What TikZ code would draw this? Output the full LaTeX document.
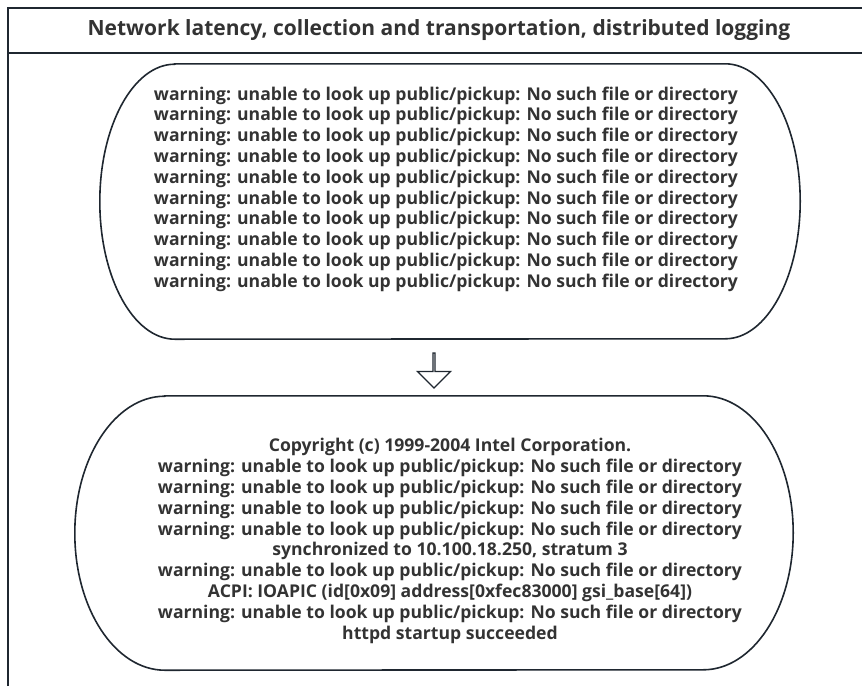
\documentclass[tikz,border=0pt]{standalone}
\usepackage{fontspec}
\setmainfont{Open Sans}
\usetikzlibrary{shapes.arrows}
\definecolor{inkline}{HTML}{1F2730}
\definecolor{inktext}{HTML}{333333}
\begin{document}
\begin{tikzpicture}[x=1pt,y=-1pt,
  frameline/.style={draw=inkline,line width=2pt},
  boxline/.style={draw=inkline,line width=1.6pt},
  logtext/.style={text=inktext,align=center,inner sep=0pt,
    font=\fontsize{17.6}{20.8}\selectfont\bfseries},
  titletext/.style={text=inktext,inner sep=0pt,
    font=\fontsize{21}{25}\selectfont\bfseries},
  holder/.style={rectangle,draw=none,inner sep=0pt},
  blockarrow/.style={single arrow,draw=inkline,line width=1.3pt,fill=white,
    shape border rotate=270,minimum width=33pt,minimum height=35pt,
    single arrow head extend=11pt,single arrow head indent=0pt,inner sep=0pt}]
\useasboundingbox (0,0) rectangle (862,686);

% outer frame, open on the right, with the title band
\coordinate (fbl) at (8,686);
\coordinate (ftl) at (8,8);
\coordinate (ftr) at (866,8);
\coordinate (fml) at (8,53);
\coordinate (fmr) at (866,53);
\draw[frameline] (fbl) -- (ftl) -- (ftr);
\draw[frameline] (fml) -- (fmr);
\node[titletext] (title) at (439,30)
  {Network latency, collection and transportation, distributed logging};

% upper log box
\node[holder,minimum width=700pt,minimum height=275pt] (upper) at (450,201.5) {};
\draw[boxline] ([xshift=75pt]upper.north west) -- ([xshift=-75pt]upper.north east)
  arc[start angle=90,end angle=-90,x radius=75pt,y radius=137.5pt]
  -- ([xshift=75pt]upper.south west)
  arc[start angle=270,end angle=90,x radius=75pt,y radius=137.5pt] -- cycle;
\node[logtext] (uppertext) at (446,189) {%
warning: unable to look up public/pickup: No such file or directory\\
warning: unable to look up public/pickup: No such file or directory\\
warning: unable to look up public/pickup: No such file or directory\\
warning: unable to look up public/pickup: No such file or directory\\
warning: unable to look up public/pickup: No such file or directory\\
warning: unable to look up public/pickup: No such file or directory\\
warning: unable to look up public/pickup: No such file or directory\\
warning: unable to look up public/pickup: No such file or directory\\
warning: unable to look up public/pickup: No such file or directory\\
warning: unable to look up public/pickup: No such file or directory};

% lower log box
\node[holder,minimum width=718pt,minimum height=274pt] (lower) at (434,533) {};
\draw[boxline] ([xshift=90pt]lower.north west) -- ([xshift=-90pt]lower.north east)
  arc[start angle=90,end angle=-90,x radius=90pt,y radius=137pt]
  -- ([xshift=90pt]lower.south west)
  arc[start angle=270,end angle=90,x radius=90pt,y radius=137pt] -- cycle;
\node[logtext] (lowertext) at (450,541) {%
Copyright (c) 1999-2004 Intel Corporation.\\
warning: unable to look up public/pickup: No such file or directory\\
warning: unable to look up public/pickup: No such file or directory\\
warning: unable to look up public/pickup: No such file or directory\\
warning: unable to look up public/pickup: No such file or directory\\
synchronized to 10.100.18.250, stratum 3\\
warning: unable to look up public/pickup: No such file or directory\\
ACPI: IOAPIC (id[0x09] address[0xfec83000] gsi\_base[64])\\
warning: unable to look up public/pickup: No such file or directory\\
httpd startup succeeded};

% hollow arrow from the upper box to the lower one
\node[blockarrow] (flow) at (434,370) {};
\end{tikzpicture}
\end{document}
